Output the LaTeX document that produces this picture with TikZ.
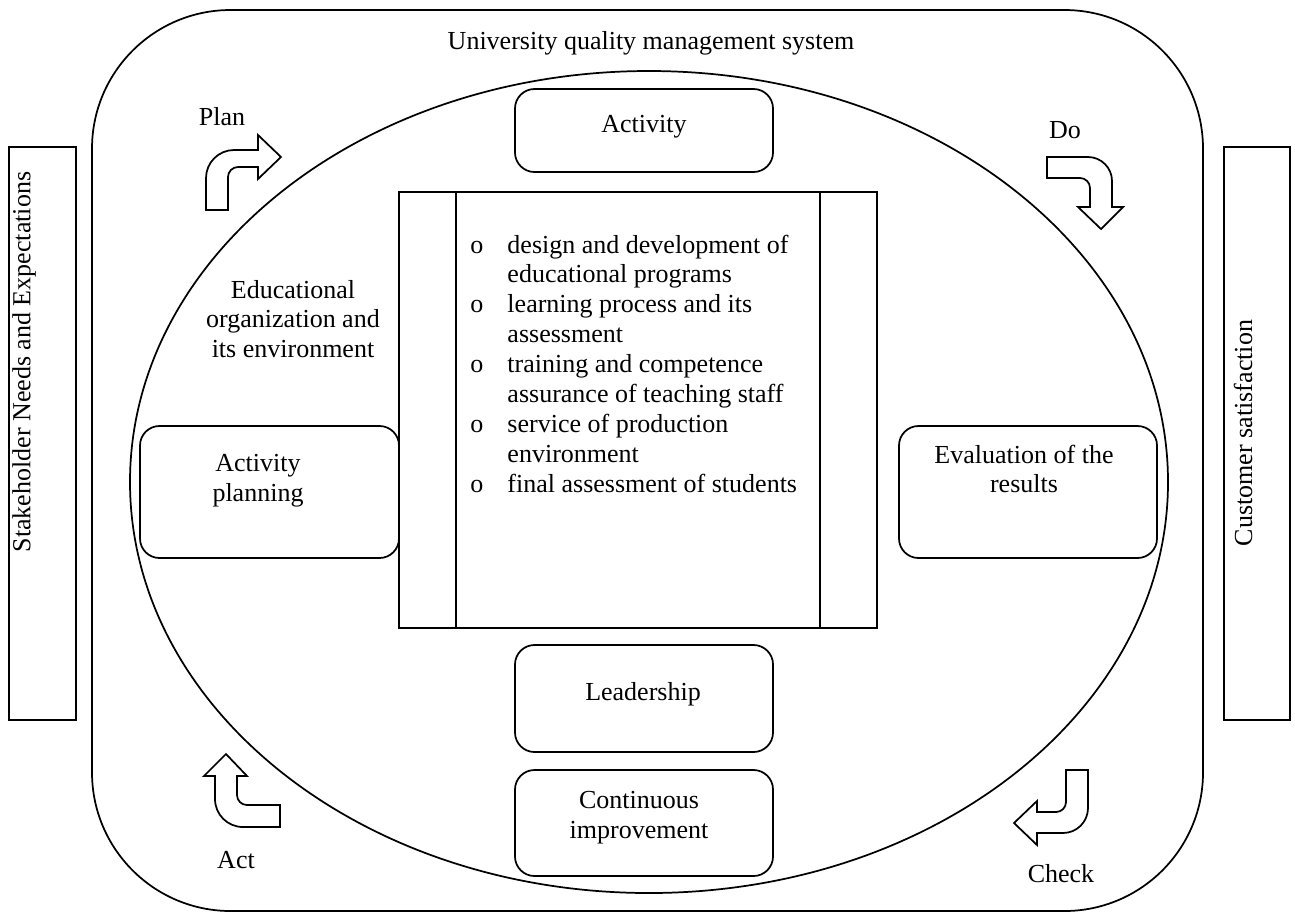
\documentclass[tikz,border=0pt]{standalone}
\usepackage{fontspec}
\setmainfont{Liberation Serif}
\usetikzlibrary{shapes.geometric}
\newcommand\upx{0.4615pt}
\tikzset{
  frame/.style={draw, line width=0.8pt, inner sep=0pt},
  roundbox/.style={draw, fill=white, line width=0.8pt, rounded corners=9pt, inner sep=0pt},
  sidebar/.style={draw, line width=0.8pt, inner sep=0pt},
  txt/.style={font=\fontsize{12}{13.8}\selectfont, inner sep=0pt, align=center},
  bent/.style={draw, fill=white, line width=0.8pt, line join=miter},
}
\begin{document}
\begin{tikzpicture}[x=\upx, y=-\upx]
\useasboundingbox (0,0) rectangle (1295,913);

% system frame and environment ellipse
\node[frame, rounded corners=64pt, minimum width=1111*\upx, minimum height=901*\upx] (sys) at (647.5,460.5) {};
\node[frame, ellipse, minimum width=1038*\upx, minimum height=822*\upx] (env) at (649,482) {};
\node[txt, anchor=base] (systitle) at (651,49) {University quality management system};

% side bars
\node[sidebar, minimum width=67*\upx, minimum height=573*\upx] (needs) at (42.5,433.5) {};
\node[txt, rotate=90] (needstext) at (24,362) {Stakeholder Needs and Expectations};
\node[sidebar, minimum width=66*\upx, minimum height=573*\upx] (satis) at (1257,433.5) {};
\node[txt, rotate=90] (satistext) at (1243,433) {Customer satisfaction};

% central process block
\node[sidebar, minimum width=478*\upx, minimum height=436*\upx] (proc) at (638,410) {};
\draw[line width=0.8pt] ([xshift=26.77pt]proc.north west) -- ([xshift=26.77pt]proc.south west);
\draw[line width=0.8pt] ([xshift=-26.77pt]proc.north east) -- ([xshift=-26.77pt]proc.south east);
\node[txt, anchor=base west, align=left] (proclist) at (470,253) {%
  \begin{tabular}[t]{@{}p{17.1pt}@{}l@{}}
  o & design and development of\\
    & educational programs\\
  o & learning process and its\\
    & assessment\\
  o & training and competence\\
    & assurance of teaching staff\\
  o & service of production\\
    & environment\\
  o & final assessment of students
  \end{tabular}};

\node[txt] (edu) at (293,319) {Educational\\organization and\\its environment};

% rounded boxes
\node[roundbox, minimum width=258*\upx, minimum height=83*\upx] (activity) at (644,130.5) {};
\node[txt, anchor=base] (activitytext) at (644,132) {Activity};

\node[roundbox, minimum width=259*\upx, minimum height=132*\upx] (plan) at (269.5,492) {};
\node[txt] (plantext) at (258,481) {Activity\\planning};

\node[roundbox, minimum width=258*\upx, minimum height=132*\upx] (eval) at (1028,492) {};
\node[txt] (evaltext) at (1024,469) {Evaluation of the\\results};

\node[roundbox, minimum width=258*\upx, minimum height=107*\upx] (lead) at (644,698.5) {};
\node[txt, anchor=base] (leadtext) at (643,700) {Leadership};

\node[roundbox, minimum width=258*\upx, minimum height=106*\upx] (impr) at (644,823) {};
\node[txt] (imprtext) at (639,818) {Continuous\\improvement};

% PDCA bent arrows
\draw[bent] (206,210) -- (206,178) .. controls (206,162.6) and (218.6,150) .. (234,150)
  -- (258,150) -- (258,135) -- (281,157) -- (258,179) -- (258,167) -- (238,167)
  .. controls (232.5,167) and (228,171.5) .. (228,177) -- (228,210) -- cycle;
\node[txt, anchor=base] (plantag) at (222,125) {Plan};

\draw[bent] (1047,157) -- (1088,157) .. controls (1101.2,157) and (1112,167.8) .. (1112,181)
  -- (1112,207) -- (1123,207) -- (1101,229) -- (1078,207) -- (1090,207) -- (1090,188)
  .. controls (1090,182.5) and (1085.5,178) .. (1080,178) -- (1047,178) -- cycle;
\node[txt, anchor=base] (dotag) at (1065,138) {Do};

\draw[bent] (226,754) -- (247,776) -- (237,776) -- (237,795)
  .. controls (237,800.5) and (241.5,805) .. (247,805) -- (280,805) -- (280,827) -- (243,827)
  .. controls (227.5,827) and (215,814.5) .. (215,799) -- (215,776) -- (204,776) -- cycle;
\node[txt, anchor=base] (acttag) at (236,868) {Act};

\draw[bent] (1066,770) -- (1088,770) -- (1088,808) .. controls (1088,821.8) and (1076.8,833) .. (1063,833)
  -- (1037,833) -- (1037,845) -- (1014,823) -- (1037,801) -- (1037,812) -- (1056,812)
  .. controls (1061.5,812) and (1066,807.5) .. (1066,802) -- cycle;
\node[txt, anchor=base] (checktag) at (1061,882) {Check};
\end{tikzpicture}
\end{document}
